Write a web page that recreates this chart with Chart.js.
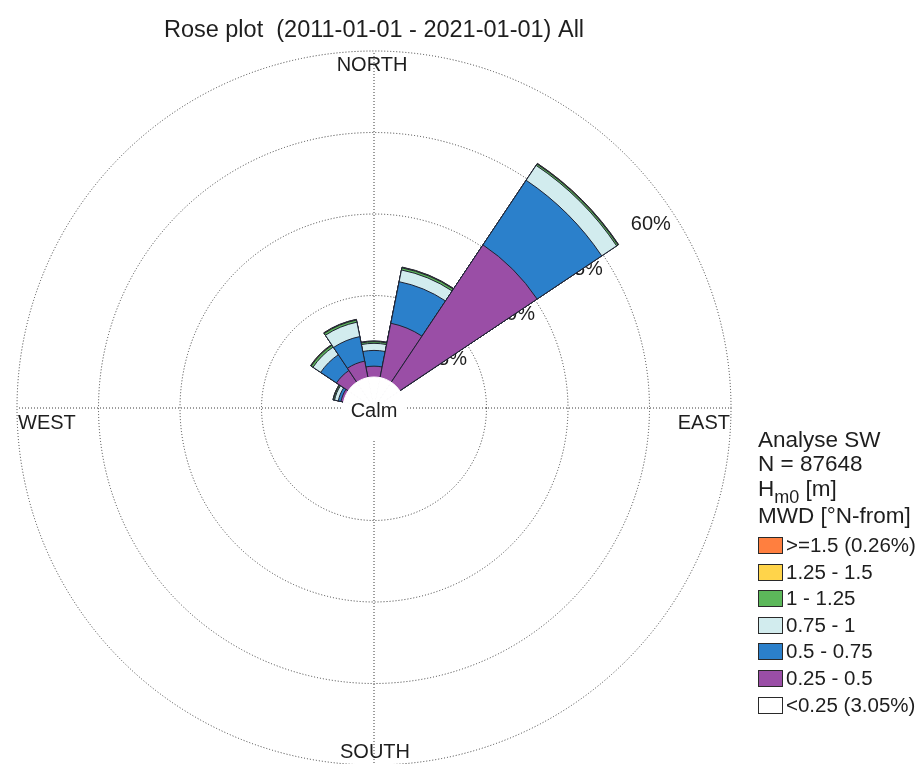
<!DOCTYPE html>
<html>
<head>
<meta charset="utf-8">
<script src="https://cdn.jsdelivr.net/npm/chart.js@4/dist/chart.umd.min.js"></script>
<style>
  html, body { margin: 0; padding: 0; background: #fff; overflow: hidden; }
  #wrap { position: absolute; left: 0; top: 0; width: 921px; height: 766px; }
  #legend { position: absolute; left: 0; top: 0; font-family: "Liberation Sans", Arial, sans-serif; color: #1e1e1e; }
  .row { position: absolute; left: 758px; font-size: 22.5px; line-height: 26px; white-space: nowrap; }
  .sw { position: absolute; left: 758px; width: 23px; height: 15px; border: 1px solid #2a2a2a; }
  .it { position: absolute; left: 786px; font-size: 20.5px; line-height: 24px; white-space: nowrap; }
</style>
</head>
<body>
<div id="wrap"><canvas id="rose"></canvas></div>
<div id="legend"></div>
<script>
// Direction sectors (16 points, clockwise from north)
const directions = ['N','NNE','NE','ENE','E','ESE','SE','SSE','S','SSW','SW','WSW','W','WNW','NW','NNW'];

// Frequency of occurrence [%] per Hm0 class and direction
const hm0_025_050 = [2.0, 10.2, 30.4, 0, 0, 0, 0, 0, 0, 0, 0, 0, 0, 0.5, 2.6, 3.1];
const hm0_050_075 = [2.9, 7.8, 14.3, 0, 0, 0, 0, 0, 0, 0, 0, 0, 0, 0.5, 3.5, 4.6];
const hm0_075_100 = [1.3, 2.2, 3.3, 0, 0, 0, 0, 0, 0, 0, 0, 0, 0, 0.7, 1.7, 2.7];
const hm0_100_125 = [0.3, 0.4, 0.3, 0, 0, 0, 0, 0, 0, 0, 0, 0, 0, 0.2, 0.4, 0.4];
const hm0_125_150 = [0.1, 0.1, 0.1, 0, 0, 0, 0, 0, 0, 0, 0, 0, 0, 0.1, 0.1, 0.1];
const hm0_150_up  = [0.05, 0.05, 0.05, 0, 0, 0, 0, 0, 0, 0, 0, 0, 0, 0.01, 0.05, 0.05];
const calmPercent = 3.05;

// Radial rings [%]
const ringTicks = [15, 30, 45, 60];
const ringLabels = ['15%', '30%', '45%', '60%'];

// Legend header and class names
const headerLines = ['Analyse SW', 'N = 87648'];
const classNames = ['>=1.5 (0.26%)', '1.25 - 1.5', '1 - 1.25', '0.75 - 1', '0.5 - 0.75', '0.25 - 0.5', '<0.25 (3.05%)'];
const classColors = ['#ff7f3f', '#ffd44a', '#5cb85a', '#d2ecee', '#2b80cb', '#9a4ea6', '#ffffff'];

// Classes from the inside out, stacked into cumulative radii
const bands = [hm0_025_050, hm0_050_075, hm0_075_100, hm0_100_125, hm0_125_150, hm0_150_up];
const bandColors = ['#9a4ea6', '#2b80cb', '#d2ecee', '#5cb85a', '#ffd44a', '#ff7f3f'];
const cumulative = [];
bands.forEach((b, k) => {
  cumulative.push(b.map((v, i) => v + (k > 0 ? cumulative[k - 1][i] : 0)));
});
const sectorTotal = cumulative[cumulative.length - 1];

// Calm disc radius expressed on the value axis
const axisMin = -5.7;
const axisMax = 60;

const FONT = '"Liberation Sans", Arial, sans-serif';

// Datasets: index 0 is painted last (on top); the calm disc covers the centre
const datasets = [{
  data: directions.map(() => 0),
  backgroundColor: '#ffffff',
  borderColor: '#ffffff',
  borderWidth: 1
}];
bands.forEach((b, k) => {
  datasets.push({
    data: cumulative[k],
    backgroundColor: (c) => (sectorTotal[c.dataIndex] > 0 ? bandColors[k] : 'rgba(0,0,0,0)'),
    borderColor: '#1f2333',
    borderWidth: (c) => (sectorTotal[c.dataIndex] > 0 ? 1 : 0)
  });
});

const roseLabels = {
  id: 'roseLabels',
  beforeDatasetsDraw(chart) {
    const s = chart.scales.r;
    const ctx = chart.ctx;
    ctx.save();
    ctx.fillStyle = '#1e1e1e';
    ctx.font = '20px ' + FONT;
    ctx.textAlign = 'center';
    ctx.textBaseline = 'middle';
    const ang = 56.5 * Math.PI / 180;
    ringTicks.forEach((v, i) => {
      const d = s.getDistanceFromCenterForValue(v) - 25;
      ctx.fillText(ringLabels[i], s.xCenter + d * Math.sin(ang), s.yCenter - d * Math.cos(ang));
    });
    ctx.restore();
  },
  afterDatasetsDraw(chart) {
    const s = chart.scales.r;
    const ctx = chart.ctx;
    const R = s.drawingArea;
    ctx.save();
    ctx.fillStyle = '#1e1e1e';
    ctx.font = '20px ' + FONT;
    ctx.textBaseline = 'middle';
    ctx.textAlign = 'center';
    ctx.fillText('NORTH', s.xCenter - 2, s.yCenter - R + 14);
    ctx.fillText('SOUTH', s.xCenter + 1, s.yCenter + R - 13);
    ctx.fillText('Calm', s.xCenter, s.yCenter + 3);
    ctx.textAlign = 'left';
    ctx.fillText('WEST', s.xCenter - R + 1, s.yCenter + 15);
    ctx.textAlign = 'right';
    ctx.fillText('EAST', s.xCenter + R - 1, s.yCenter + 15);
    ctx.restore();
  }
};

new Chart(document.getElementById('rose'), {
  type: 'polarArea',
  data: { labels: directions, datasets },
  plugins: [roseLabels],
  options: {
    responsive: true,
    maintainAspectRatio: false,
    animation: false,
    events: [],
    layout: { padding: { left: 17, right: 190, top: 0, bottom: 0 } },
    plugins: {
      legend: { display: false },
      tooltip: { enabled: false },
      title: {
        display: true,
        text: 'Rose plot  (2011-01-01 - 2021-01-01) All',
        fullSize: false,
        color: '#1e1e1e',
        font: { family: FONT, size: 23.5, weight: 'normal', lineHeight: 1.1 },
        padding: { top: 18, bottom: 7.15 }
      }
    },
    scales: {
      r: {
        startAngle: -11.25,
        min: axisMin,
        max: axisMax,
        afterBuildTicks: (scale) => {
          scale.ticks = [{ value: axisMin }].concat(ringTicks.map(v => ({ value: v })));
        },
        ticks: { display: false },
        pointLabels: { display: false },
        angleLines: { display: false },
        grid: {
          circular: true,
          lineWidth: 1,
          color: (c) => (c.tick && c.tick.value > 0 ? '#3a3a3a' : 'rgba(0,0,0,0)')
        },
        border: { dash: [1, 2] }
      },
      r2: {
        type: 'radialLinear',
        axis: 'r',
        startAngle: 0,
        min: axisMin,
        max: axisMax,
        ticks: { display: false },
        pointLabels: { display: false },
        grid: { display: false },
        angleLines: {
          display: true,
          lineWidth: 1,
          color: (c) => (c.index % 4 === 0 ? '#3a3a3a' : 'rgba(0,0,0,0)'),
          borderDash: [1, 2]
        }
      }
    }
  }
});

// Legend
const legend = document.getElementById('legend');
const headerY = [427, 451];
headerLines.forEach((t, i) => {
  const d = document.createElement('div');
  d.className = 'row';
  d.style.top = headerY[i] + 'px';
  d.textContent = t;
  legend.appendChild(d);
});
const hm = document.createElement('div');
hm.className = 'row';
hm.style.top = '476px';
hm.innerHTML = 'H<span style="font-size:18px;position:relative;top:7px">m0</span> [m]';
legend.appendChild(hm);
const mwd = document.createElement('div');
mwd.className = 'row';
mwd.style.top = '503px';
mwd.textContent = 'MWD [\u00b0N-from]';
legend.appendChild(mwd);
classNames.forEach((t, i) => {
  const y = 545 + i * 26.6;
  const sw = document.createElement('div');
  sw.className = 'sw';
  sw.style.top = (y - 8) + 'px';
  sw.style.background = classColors[i];
  legend.appendChild(sw);
  const d = document.createElement('div');
  d.className = 'it';
  d.style.top = (y - 12) + 'px';
  d.textContent = t;
  legend.appendChild(d);
});
</script>
</body>
</html>
